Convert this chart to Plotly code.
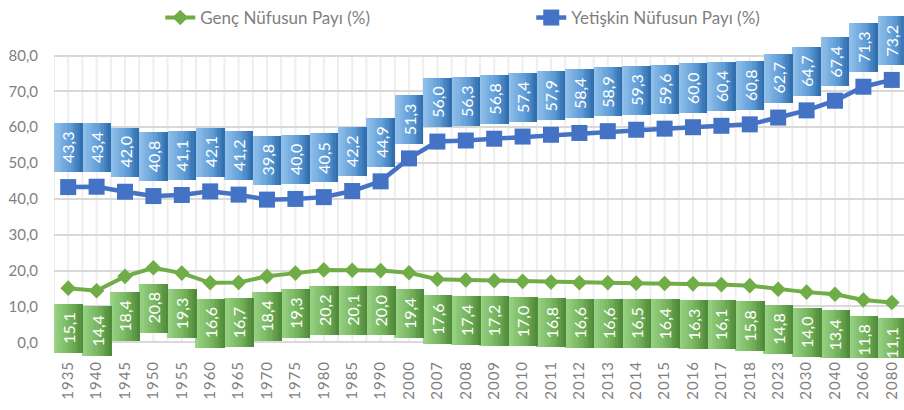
import plotly.graph_objects as go

years = ["1935", "1940", "1945", "1950", "1955", "1960", "1965", "1970", "1975", "1980",
         "1985", "1990", "2000", "2007", "2008", "2009", "2010", "2011", "2012", "2013",
         "2014", "2015", "2016", "2017", "2018", "2023", "2030", "2040", "2060", "2080"]
genc = [15.1, 14.4, 18.4, 20.8, 19.3, 16.6, 16.7, 18.4, 19.3, 20.2,
        20.1, 20.0, 19.4, 17.6, 17.4, 17.2, 17.0, 16.8, 16.6, 16.6,
        16.5, 16.4, 16.3, 16.1, 15.8, 14.8, 14.0, 13.4, 11.8, 11.1]
yetiskin = [43.3, 43.4, 42.0, 40.8, 41.1, 42.1, 41.2, 39.8, 40.0, 40.5,
            42.2, 44.9, 51.3, 56.0, 56.3, 56.8, 57.4, 57.9, 58.4, 58.9,
            59.3, 59.6, 60.0, 60.4, 60.8, 62.7, 64.7, 67.4, 71.3, 73.2]
y_ticks = [0, 10, 20, 30, 40, 50, 60, 70, 80]

FONT = "Lato"
GREEN = "#70ad47"
BLUE = "#4472c4"
n = len(years)
xs = list(range(n))

def fmt(v):
    return f"{v:.1f}".replace(".", ",")

def lerp(c1, c2, t):
    a = [int(c1[i:i + 2], 16) for i in (1, 3, 5)]
    b = [int(c2[i:i + 2], 16) for i in (1, 3, 5)]
    return "#" + "".join(f"{round(a[j] + (b[j] - a[j]) * t):02x}" for j in range(3))

fig = go.Figure()

# label box geometry (data units)
BOX_H = 13.7
BLUE_GAP = 4.1
GREEN_GAP = 4.4
STRIPS = 12

def add_boxes(values, base_fn, width, c_left, c_mid, c_right):
    sw = width / STRIPS
    for k in range(STRIPS):
        t = (k + 0.5) / STRIPS
        if t < 0.6:
            col = lerp(c_left, c_mid, t / 0.6)
        else:
            col = lerp(c_mid, c_right, (t - 0.6) / 0.4)
        fig.add_trace(go.Bar(
            x=xs, y=[BOX_H] * n, base=[base_fn(v) for v in values],
            width=sw * 1.08, offset=-width / 2 + k * sw,
            marker=dict(color=col, line=dict(width=0)),
            showlegend=False, hoverinfo="skip"))

add_boxes(yetiskin, lambda v: v + BLUE_GAP, 1.0, "#92c1ea", "#5d9bd6", "#2c6aab")
add_boxes(genc, lambda v: v - GREEN_GAP - BOX_H, 1.04, "#9cd487", "#72b25a", "#4c8637")

fig.add_trace(go.Scatter(
    x=xs, y=genc, mode="lines+markers", name="Genç Nüfusun Payı (%)",
    line=dict(color=GREEN, width=4),
    marker=dict(symbol="diamond", size=12, color=GREEN)))
fig.add_trace(go.Scatter(
    x=xs, y=yetiskin, mode="lines+markers", name="Yetişkin Nüfusun Payı (%)",
    line=dict(color=BLUE, width=4.5),
    marker=dict(symbol="square", size=16, color=BLUE)))

annotations = []
for i in xs:
    annotations.append(dict(x=i, y=yetiskin[i] + BLUE_GAP + BOX_H / 2, text=fmt(yetiskin[i]),
                            textangle=-90, showarrow=False,
                            font=dict(family=FONT, size=16, color="white")))
    annotations.append(dict(x=i, y=genc[i] - GREEN_GAP - BOX_H / 2, text=fmt(genc[i]),
                            textangle=-90, showarrow=False,
                            font=dict(family=FONT, size=16, color="white")))

shapes = []
for j in range(2 * n + 1):
    xv = -0.5 + j * 0.5
    shapes.append(dict(type="line", xref="x", yref="y", x0=xv, x1=xv, y0=0, y1=80,
                       line=dict(color="#eeeeee", width=2), layer="below"))

spaced = ["\u200a".join(list(y)) for y in years]

fig.update_layout(
    width=904, height=410,
    margin=dict(l=54, r=0, t=0, b=52),
    paper_bgcolor="white", plot_bgcolor="white",
    barmode="overlay", bargap=0,
    separators=",.",
    font=dict(family=FONT, color="#7f7f7f"),
    showlegend=True,
    legend=dict(orientation="h", x=0.125, xanchor="left", y=1.02, yanchor="top",
                entrywidth=326, entrywidthmode="pixels",
                font=dict(family=FONT, size=17, color="#7f7f7f"),
                bgcolor="rgba(0,0,0,0)"),
    annotations=annotations,
    shapes=shapes,
)
fig.update_xaxes(range=[-0.5, 29.43], tickvals=xs, ticktext=spaced, tickangle=-90,
                 showgrid=False, zeroline=False, showline=False, automargin=False,
                 tickfont=dict(family=FONT, size=15, color="#7f7f7f"))
fig.update_yaxes(range=[-4.38, 93.54], tickvals=y_ticks, tickformat=".1f",
                 showgrid=True, gridcolor="#d9d9d9", gridwidth=2, zeroline=False,
                 automargin=False, ticklabelstandoff=15,
                 tickfont=dict(family=FONT, size=15, color="#7f7f7f"))

fig.write_html("out.html", config={"displayModeBar": False},
               post_script="document.body.style.margin='0';document.body.style.overflow='hidden';")
